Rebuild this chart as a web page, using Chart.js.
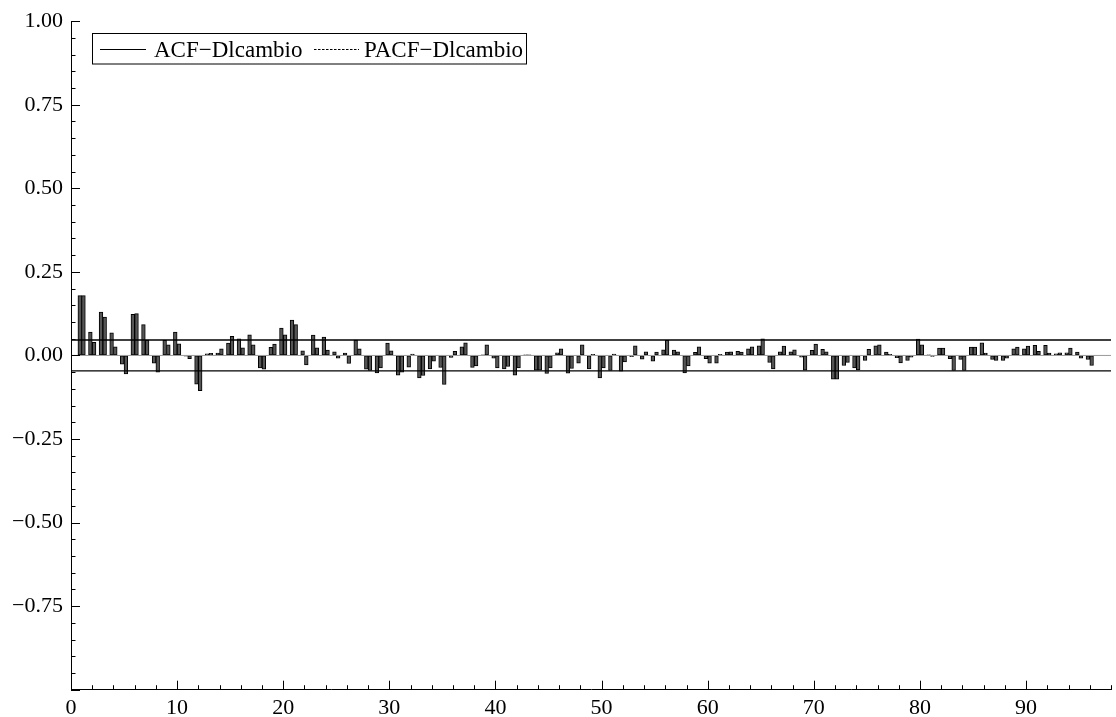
<!DOCTYPE html>
<html>
<head>
<meta charset="utf-8">
<script src="https://cdn.jsdelivr.net/npm/chart.js@4/dist/chart.umd.min.js"></script>
<style>
  html, body { margin: 0; padding: 0; background: #fff; }
  #wrap { width: 1116px; height: 717px; }
</style>
</head>
<body>
<div id="wrap"><canvas id="acfChart" width="1116" height="717"></canvas></div>
<script>
// ACF / PACF of Dlcambio, lags 1..96
const acfValues = [
  0.179, 0.070, 0.130, 0.068, -0.026, 0.123, 0.092, -0.023, 0.045, 0.070,
  -0.002, -0.086, 0.005, 0.007, 0.037, 0.050, 0.062, -0.037, 0.024, 0.082,
  0.106, 0.014, 0.061, 0.055, 0.011, 0.007, 0.046, -0.041, -0.052, 0.037,
  -0.059, -0.035, -0.067, -0.040, -0.036, -0.006, 0.026, -0.036, 0.002, -0.008,
  -0.040, -0.059, 0.002, -0.044, -0.054, 0.008, -0.053, -0.023, -0.040, -0.067,
  -0.045, -0.047, -0.004, -0.011, -0.017, 0.017, 0.016, -0.052, 0.009, -0.010,
  -0.023, 0.010, 0.012, 0.020, 0.029, -0.021, 0.011, 0.011, -0.005, 0.015,
  0.018, -0.071, -0.030, -0.037, -0.015, 0.029, 0.010, -0.007, -0.015, 0.049,
  0.002, 0.022, -0.010, -0.012, 0.025, 0.038, -0.012, -0.015, 0.020, 0.020,
  0.030, 0.030, 0.005, 0.008, 0.010, -0.012
];
const pacfValues = [
  0.179, 0.039, 0.115, 0.026, -0.055, 0.125, 0.046, -0.050, 0.032, 0.035,
  -0.010, -0.105, 0.006, 0.020, 0.057, 0.023, 0.032, -0.041, 0.034, 0.062,
  0.092, -0.028, 0.023, 0.016, -0.008, -0.024, 0.020, -0.045, -0.037, 0.014,
  -0.050, 0.004, -0.060, -0.017, -0.087, 0.012, 0.038, -0.031, 0.032, -0.037,
  -0.033, -0.037, 0.001, -0.044, -0.037, 0.020, -0.039, 0.032, 0.003, -0.037,
  0.004, -0.019, 0.029, 0.011, 0.010, 0.045, 0.011, -0.031, 0.026, -0.023,
  0.003, 0.011, 0.010, 0.026, 0.050, -0.040, 0.028, 0.017, -0.044, 0.034,
  0.011, -0.071, -0.021, -0.043, 0.018, 0.032, 0.003, -0.022, -0.005, 0.032,
  -0.003, 0.022, -0.045, -0.045, 0.025, 0.007, -0.015, -0.008, 0.025, 0.028,
  0.012, 0.007, 0.008, 0.022, -0.008, -0.030
];
const lags = acfValues.map((v, i) => i + 1);
const bandLevels = [0.046, -0.046];
const seriesNames = ['ACF\u2212Dlcambio', 'PACF\u2212Dlcambio'];

const xMin = 0, xMax = 98;
const serif = "'Liberation Serif', 'DejaVu Serif', serif";

function hLine(y, color, width) {
  return {
    type: 'line',
    data: [{ x: xMin, y: y }, { x: xMax, y: y }],
    borderColor: color,
    borderWidth: width,
    pointRadius: 0,
    fill: false
  };
}

// little ticks pointing into the plot, like the original
const innerTicks = {
  id: 'innerTicks',
  afterDraw(chart) {
    const ctx = chart.ctx;
    const xs = chart.scales.x, ys = chart.scales.y;
    const area = chart.chartArea;
    ctx.save();
    ctx.strokeStyle = '#000';
    ctx.lineWidth = 1;
    ctx.beginPath();
    xs.ticks.forEach(t => {
      const px = Math.round(xs.getPixelForValue(t.value)) + 0.5;
      const len = Math.round(t.value) % 10 === 0 ? 9 : 4.5;
      ctx.moveTo(px, area.bottom);
      ctx.lineTo(px, area.bottom - len);
    });
    ys.ticks.forEach(t => {
      const r = Math.round(t.value * 100);
      const py = Math.round(ys.getPixelForValue(t.value)) + 0.5;
      const len = r % 25 === 0 ? 9 : 4.5;
      ctx.moveTo(area.left, py);
      ctx.lineTo(area.left + len, py);
    });
    ctx.stroke();
    ctx.restore();
  }
};

// boxed legend inside the plot
const boxLegend = {
  id: 'boxLegend',
  afterDraw(chart) {
    const ctx = chart.ctx;
    ctx.save();
    ctx.strokeStyle = '#000';
    ctx.lineWidth = 1;
    ctx.strokeRect(92.5, 33.5, 434, 30.5);
    ctx.font = '23px ' + serif;
    ctx.fillStyle = '#000';
    ctx.textBaseline = 'alphabetic';
    // solid sample
    ctx.beginPath();
    ctx.moveTo(100, 49.5);
    ctx.lineTo(146, 49.5);
    ctx.stroke();
    ctx.fillText(seriesNames[0], 154, 57);
    // dashed sample
    ctx.setLineDash([2.5, 1.5]);
    ctx.beginPath();
    ctx.moveTo(314, 49.5);
    ctx.lineTo(359, 49.5);
    ctx.stroke();
    ctx.setLineDash([]);
    ctx.fillText(seriesNames[1], 364, 57);
    ctx.restore();
  }
};

const ctx = document.getElementById('acfChart').getContext('2d');
new Chart(ctx, {
  type: 'bar',
  data: {
    labels: lags,
    datasets: [
      hLine(bandLevels[0], '#000', 1.4),
      hLine(bandLevels[1], '#000', 1.4),
      hLine(0, '#9a9a9a', 1),
      {
        label: seriesNames[0],
        data: acfValues,
        backgroundColor: '#555555',
        borderColor: '#000',
        borderWidth: 1,
        borderSkipped: false,
        barThickness: 3.7
      },
      {
        label: seriesNames[1],
        data: pacfValues,
        backgroundColor: '#555555',
        borderColor: '#000',
        borderWidth: 1,
        borderSkipped: false,
        barThickness: 3.7
      }
    ]
  },
  options: {
    responsive: false,
    animation: false,
    events: [],
    layout: { padding: { top: 20.5, right: 3, left: 0, bottom: 0 } },
    plugins: {
      legend: { display: false },
      tooltip: { enabled: false }
    },
    scales: {
      x: {
        type: 'linear',
        min: xMin,
        max: xMax,
        offset: false,
        grid: { display: true, drawOnChartArea: false, drawTicks: false },
        border: { display: true, color: '#000', width: 1 },
        ticks: {
          stepSize: 2,
          autoSkip: false,
          maxRotation: 0,
          padding: 5,
          color: '#000',
          font: { family: serif, size: 22 },
          callback: v => (Math.round(v) % 10 === 0 ? String(Math.round(v)) : '')
        },
        afterFit: s => { s.height = 27.3; }
      },
      y: {
        min: -1,
        max: 1,
        grid: { display: true, drawOnChartArea: false, drawTicks: false },
        border: { display: true, color: '#000', width: 1 },
        ticks: {
          stepSize: 0.05,
          autoSkip: false,
          padding: 8,
          color: '#000',
          font: { family: serif, size: 22 },
          callback: v => {
            const r = Math.round(v * 100);
            if (r % 25 !== 0 || r === -100) return '';
            return (r / 100).toFixed(2).replace('-', '\u2212');
          }
        },
        afterFit: s => { s.width = 71; }
      }
    }
  },
  plugins: [innerTicks, boxLegend]
});
</script>
</body>
</html>
